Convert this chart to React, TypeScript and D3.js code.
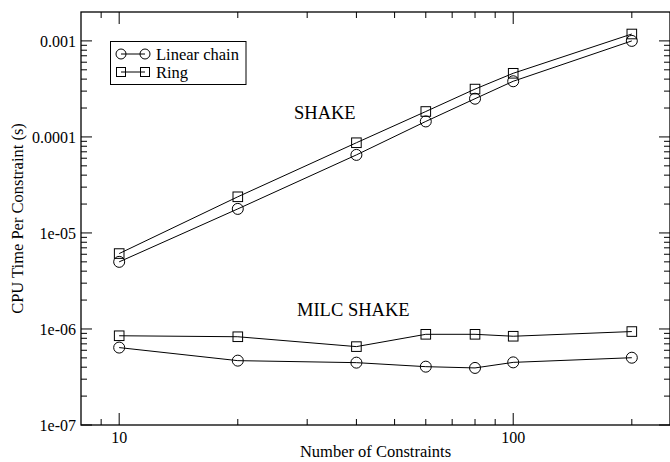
import React from "react";
import * as d3 from "d3";

const constraints = [10, 20, 40, 60, 80, 100, 200];
const shakeLinear = [5.0e-6, 1.78e-5, 6.5e-5, 1.45e-4, 2.5e-4, 3.8e-4, 1.0e-3];
const shakeRing = [6.1e-6, 2.38e-5, 8.7e-5, 1.84e-4, 3.15e-4, 4.6e-4, 1.18e-3];
const milcLinear = [6.4e-7, 4.68e-7, 4.46e-7, 4.05e-7, 3.93e-7, 4.49e-7, 5.02e-7];
const milcRing = [8.5e-7, 8.3e-7, 6.55e-7, 8.8e-7, 8.8e-7, 8.4e-7, 9.4e-7];

const xMajorTicks = [10, 100];
const xMajorLabels = ["10", "100"];
const xMinorTicks = [9, 20, 30, 40, 50, 60, 70, 80, 90, 200];
const yMajorTicks = [1e-7, 1e-6, 1e-5, 1e-4, 1e-3];
const yMajorLabels = ["1e-07", "1e-06", "1e-05", "0.0001", "0.001"];
const seriesNames = ["Linear chain", "Ring"];

const W = 670;
const H = 462;
const L = 81, R = 670, T = 12, B = 425;
const FONT = "Liberation Serif, Times New Roman, serif";

export default function App() {
  const x = d3.scaleLog().domain([8, 250]).range([L, R]);
  const y = d3.scaleLog().domain([1e-7, 0.002]).range([B, T]);

  const yMinor: number[] = [];
  for (const d of [1e-7, 1e-6, 1e-5, 1e-4, 1e-3]) {
    for (let k = 2; k <= 9; k++) {
      const v = d * k;
      if (v < 0.002) yMinor.push(v);
    }
  }

  const line = d3
    .line<[number, number]>()
    .x((d) => x(d[0]))
    .y((d) => y(d[1]));

  const series = [
    { vals: shakeLinear, sym: "circle" },
    { vals: shakeRing, sym: "square" },
    { vals: milcLinear, sym: "circle" },
    { vals: milcRing, sym: "square" },
  ];

  const marker = (sym: string, cx: number, cy: number, key: any) =>
    sym === "circle" ? (
      <circle key={key} cx={cx} cy={cy} r={5.5} fill="none" stroke="#000" strokeWidth={1} />
    ) : (
      <rect key={key} x={cx - 4.8} y={cy - 4.8} width={9.6} height={9.6} fill="none" stroke="#000" strokeWidth={1} />
    );

  return (
    <svg
      width={W}
      height={H}
      style={{ position: "absolute", left: 0, top: 0, background: "#fff", fontFamily: FONT }}
    >
      <rect x={0} y={0} width={W} height={H} fill="#fff" />
      {/* frame */}
      <rect x={L} y={T} width={R - L} height={B - T} fill="none" stroke="#000" strokeWidth={1.3} />

      {/* x ticks */}
      {xMajorTicks.map((t, i) => (
        <g key={"xm" + i}>
          <line x1={x(t)} x2={x(t)} y1={B} y2={B - 12} stroke="#000" />
          <line x1={x(t)} x2={x(t)} y1={T} y2={T + 12} stroke="#000" />
          <text x={x(t)} y={443} fontSize={16} textAnchor="middle">
            {xMajorLabels[i]}
          </text>
        </g>
      ))}
      {xMinorTicks.map((t, i) => (
        <g key={"xn" + i}>
          <line x1={x(t)} x2={x(t)} y1={B} y2={B - 6} stroke="#000" />
          <line x1={x(t)} x2={x(t)} y1={T} y2={T + 6} stroke="#000" />
        </g>
      ))}

      {/* y ticks */}
      {yMajorTicks.map((t, i) => (
        <g key={"ym" + i}>
          <line x1={L} x2={L + 11} y1={y(t)} y2={y(t)} stroke="#000" />
          <line x1={R} x2={R - 11} y1={y(t)} y2={y(t)} stroke="#000" />
          <text x={L - 5} y={y(t)} dy="0.35em" fontSize={16} textAnchor="end">
            {yMajorLabels[i]}
          </text>
        </g>
      ))}
      {yMinor.map((t, i) => (
        <g key={"yn" + i}>
          <line x1={L} x2={L + 6} y1={y(t)} y2={y(t)} stroke="#000" />
          <line x1={R} x2={R - 6} y1={y(t)} y2={y(t)} stroke="#000" />
        </g>
      ))}

      {/* series */}
      {series.map((s, si) => {
        const pts: [number, number][] = constraints.map((c, i) => [c, s.vals[i]]);
        return (
          <g key={"s" + si}>
            <path d={line(pts) || ""} fill="none" stroke="#000" strokeWidth={1} />
            {pts.map((p, i) => marker(s.sym, x(p[0]), y(p[1]), i))}
          </g>
        );
      })}

      {/* annotations */}
      <text x={294} y={119} fontSize={18.5}>SHAKE</text>
      <text x={297} y={316} fontSize={18.5}>MILC SHAKE</text>

      {/* axis titles */}
      <text x={(L + R) / 2} y={457} fontSize={16.5} textAnchor="middle">
        Number of Constraints
      </text>
      <text
        transform={`translate(23, ${(T + B) / 2}) rotate(-90)`}
        fontSize={16.5}
        textAnchor="middle"
      >
        CPU Time Per Constraint (s)
      </text>

      {/* legend */}
      <rect x={110.5} y={41.5} width={135.5} height={43} fill="#fff" stroke="#000" strokeWidth={1} />
      {seriesNames.map((n, i) => {
        const ly = 54 + i * 18;
        const sym = i === 0 ? "circle" : "square";
        return (
          <g key={"lg" + i}>
            <line x1={121} x2={145} y1={ly} y2={ly} stroke="#000" />
            {sym === "circle" ? (
              <>
                <circle cx={121} cy={ly} r={5} fill="none" stroke="#000" />
                <circle cx={145} cy={ly} r={5} fill="none" stroke="#000" />
              </>
            ) : (
              <>
                <rect x={116.5} y={ly - 4.5} width={9} height={9} fill="none" stroke="#000" />
                <rect x={140.5} y={ly - 4.5} width={9} height={9} fill="none" stroke="#000" />
              </>
            )}
            <text x={156} y={ly} dy="0.35em" fontSize={16.5}>
              {n}
            </text>
          </g>
        );
      })}
    </svg>
  );
}
